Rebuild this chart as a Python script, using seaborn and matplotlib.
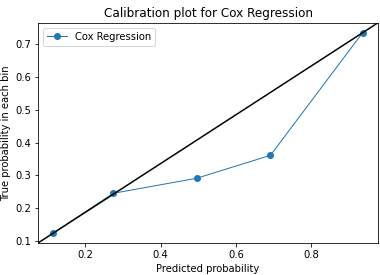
import matplotlib
matplotlib.use("Agg")
import matplotlib.pyplot as plt
import seaborn as sns
import numpy as np

pred_prob = [0.115, 0.274, 0.496, 0.692, 0.937]
true_prob = [0.124, 0.245, 0.291, 0.361, 0.735]
series_name = "Cox Regression"

DPI = 72
fig = plt.figure(figsize=(380 / DPI, 275 / DPI), dpi=DPI)
ax = fig.add_axes([0.1, 0.1164, 0.895, 0.8011])

sns.lineplot(x=pred_prob, y=true_prob, ax=ax, marker="o", sort=False,
             label=series_name, color="#1f77b4", linewidth=1.0,
             markersize=7, markeredgecolor="#1f77b4", markeredgewidth=0)
ax.plot([0, 1], [0, 1], color="black", linewidth=1.5, transform=ax.transAxes)

ax.set_xlabel("Predicted probability", fontsize=10)
ax.set_ylabel("True probability in each bin", fontsize=10)
ax.set_title("Calibration plot for Cox Regression", fontsize=12)
ax.tick_params(labelsize=10)
ax.legend(loc="upper left", fontsize=10)

fig.savefig("out.png", dpi=DPI)
